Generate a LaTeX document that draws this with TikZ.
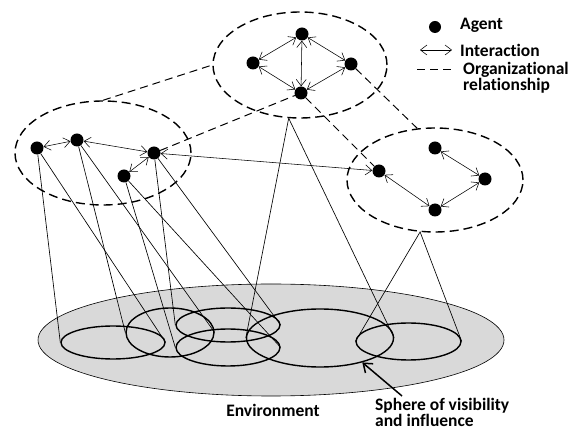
\documentclass[tikz,border=0pt]{standalone}
\usepackage{fontspec}
\setmainfont{Carlito}[Ligatures=NoCommon]
\usetikzlibrary{shapes.geometric,arrows.meta}
\definecolor{envgray}{RGB}{217,217,217}
\tikzset{
  agent/.style={circle,fill=black,inner sep=0pt,minimum size=13pt},
  groupring/.style={ellipse,draw,line width=1.4pt,dash pattern=on 9pt off 5pt,inner sep=0pt},
  spherebox/.style={ellipse,draw,line width=1.4pt,inner sep=0pt},
  interact/.style={{Straight Barb[length=6.5pt,width=10pt]}-{Straight Barb[length=6.5pt,width=10pt]},line width=0.55pt},
  orgrel/.style={line width=1pt,dash pattern=on 8pt off 5pt},
  sightline/.style={line width=0.65pt},
  txt/.style={font=\fontsize{17.5}{13.5}\selectfont\bfseries,inner sep=0pt,align=left}
}
\begin{document}
\begin{tikzpicture}[x=1pt,y=-1pt]
  \useasboundingbox (0,0) rectangle (571,430);
  % environment and spheres of visibility
  \node[ellipse,draw,fill=envgray,line width=0.6pt,inner sep=0pt,
    minimum width=466pt,minimum height=112pt] (env) at (271,340) {};
  \node[spherebox,minimum width=104pt,minimum height=33pt] (e1) at (113,342.5) {};
  \node[spherebox,minimum width=88pt,minimum height=49pt] (e2) at (170,332.5) {};
  \node[spherebox,minimum width=104pt,minimum height=34pt] (e3) at (228,325) {};
  \node[spherebox,minimum width=104pt,minimum height=37pt] (e4) at (228,347.5) {};
  \node[spherebox,minimum width=147pt,minimum height=58pt] (e5) at (320,338) {};
  \node[spherebox,minimum width=105pt,minimum height=37pt] (e6) at (408.5,341.5) {};
  % groups
  \node[groupring,minimum width=176pt,minimum height=104pt] (g1) at (103,153) {};
  \node[groupring,minimum width=174pt,minimum height=106pt] (g2) at (300,65) {};
  \node[groupring,minimum width=176pt,minimum height=104pt] (g3) at (435,180) {};
  % agents
  \node[agent] (a1) at (37,148) {};
  \node[agent] (a2) at (77,140) {};
  \node[agent] (a3) at (154,153) {};
  \node[agent] (a4) at (124,176) {};
  \node[agent] (b1) at (302,34) {};
  \node[agent] (b2) at (253,63) {};
  \node[agent] (b3) at (351,64) {};
  \node[agent] (b4) at (301,93) {};
  \node[agent] (c1) at (379,171) {};
  \node[agent] (c2) at (435,148) {};
  \node[agent] (c3) at (485,179) {};
  \node[agent] (c4) at (435,210) {};
  % lines of sight
  \draw[sightline] (e1.west) -- (a1) -- (e1.east);
  \draw[sightline] (e2.west) -- (a2) -- (e2.east);
  \draw[sightline] (e3.west) -- (a3) -- (e3.east);
  \draw[sightline] (e4.west) -- (a4) -- (e4.east);
  \draw[sightline] (e5.west) -- (g2.258) -- (e5.east);
  \draw[sightline] (e6.west) -- (g3.254) -- (e6.east);
  % interactions
  \draw[interact] (a1) -- (a2);
  \draw[interact] (a2) -- (a3);
  \draw[interact] (a3) -- (a4);
  \draw[interact] (a3) -- (c1);
  \draw[interact] (b1) -- (b2);
  \draw[interact] (b1) -- (b3);
  \draw[interact] (b1) -- (b4);
  \draw[interact] (b2) -- (b4);
  \draw[interact] (b3) -- (b4);
  \draw[interact] (c1) -- (c4);
  \draw[interact] (c4) -- (c3);
  \draw[interact] (c3) -- (c2);
  % organizational relationships
  \draw[orgrel] (g1.north) -- (g2.west);
  \draw[orgrel] (a3) -- (b4);
  \draw[orgrel] (b4) -- (c1);
  \draw[orgrel] (b3) -- (g3.109);
  % labels
  \node[txt] (envlabel) at (273,410) {Environment};
  \node[txt,anchor=north west] (spherelabel) at (375,398) {Sphere of visibility\\and influence};
  \coordinate (tail) at (402,396);
  \draw[line width=1.5pt,-{Straight Barb[length=8pt,width=12pt]}] (tail) -- (e5.-30);
  % legend
  \node[agent,minimum size=12pt] (legagent) at (435,27) {};
  \node[txt,anchor=west] (agentlabel) at (460,25) {Agent};
  \coordinate (ia) at (420,50);
  \coordinate (ib) at (452,50);
  \draw[interact] (ia) -- (ib);
  \node[txt,anchor=west] (interlabel) at (460,50) {Interaction};
  \coordinate (oa) at (417,70);
  \coordinate (ob) at (453,70);
  \draw[orgrel] (oa) -- (ob);
  \node[txt,anchor=north west,font=\fontsize{17.5}{12}\selectfont\bfseries] (orglabel) at (463,62) {Organizational\\relationship};
\end{tikzpicture}
\end{document}
